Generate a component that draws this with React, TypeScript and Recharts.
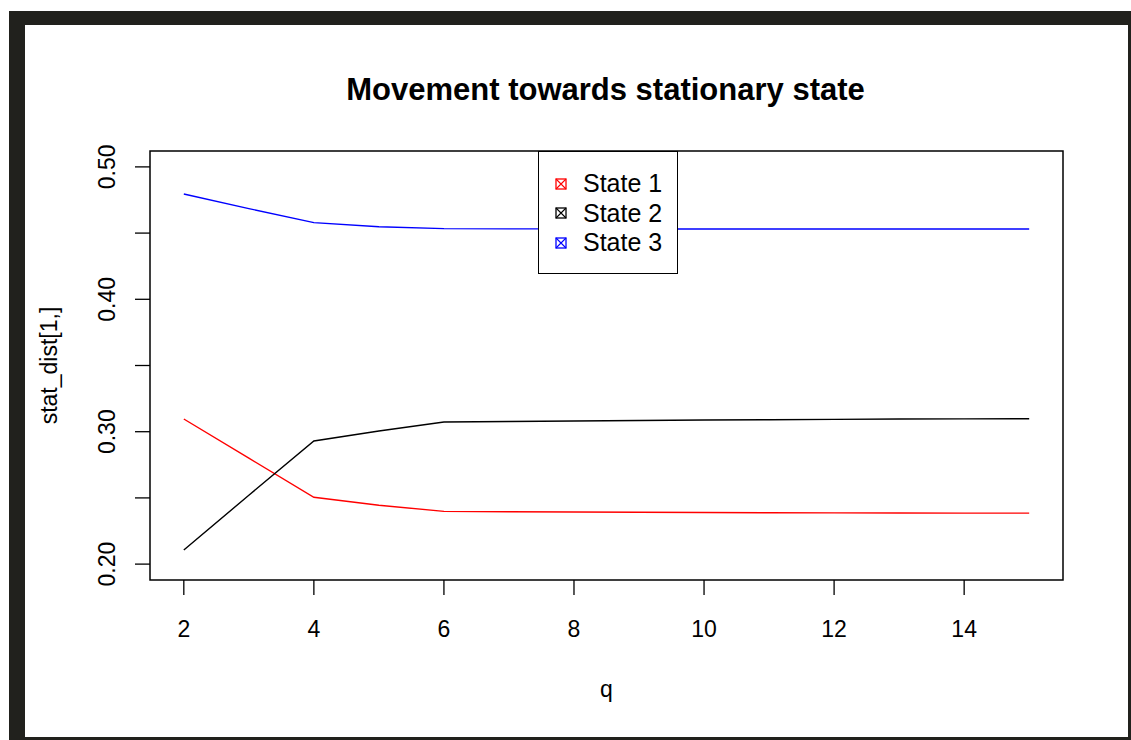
import { LineChart, Line, XAxis, YAxis, ReferenceArea, Legend } from "recharts";

const qValues = [2, 3, 4, 5, 6, 7, 8, 9, 10, 11, 12, 13, 14, 15];
const state1 = [0.3096, 0.28, 0.2505, 0.2445, 0.2398, 0.2396, 0.2394, 0.2392, 0.239, 0.2388, 0.2387, 0.2386, 0.2385, 0.2385];
const state2 = [0.2107, 0.252, 0.293, 0.3005, 0.3073, 0.3077, 0.3081, 0.3085, 0.3088, 0.309, 0.3093, 0.3096, 0.3097, 0.3098];
const state3 = [0.4795, 0.4685, 0.4579, 0.4548, 0.4534, 0.4532, 0.4532, 0.4531, 0.4531, 0.4531, 0.4531, 0.4531, 0.4531, 0.4531];

const xTicks = [2, 4, 6, 8, 10, 12, 14];
const yTicks = [0.2, 0.25, 0.3, 0.35, 0.4, 0.45, 0.5];
const yLabels = ["0.20", "", "0.30", "", "0.40", "", "0.50"];

const SERIES = [
  { key: "s1", name: "State 1", color: "#ff0000" },
  { key: "s2", name: "State 2", color: "#000000" },
  { key: "s3", name: "State 3", color: "#0000ff" },
];

const FONT = "Arial, 'Liberation Sans', sans-serif";

const data = qValues.map((q, i) => ({ q, s1: state1[i], s2: state2[i], s3: state3[i] }));

function XTick({ x, y, payload }: any) {
  return (
    <text x={x} y={y + 40} textAnchor="middle" fontSize={23} fontFamily={FONT} fill="#000">
      {payload.value}
    </text>
  );
}

function YTick({ y, index }: any) {
  const label = yLabels[index];
  if (!label) return null;
  return (
    <text x={115} y={y} transform={`rotate(-90 115 ${y})`} textAnchor="middle" fontSize={23} fontFamily={FONT} fill="#000">
      {label}
    </text>
  );
}

function LegendBox() {
  return (
    <div style={{ width: 140, height: 123, boxSizing: "border-box", border: "1.5px solid #000", background: "#fff", paddingTop: 17, fontFamily: FONT }}>
      {SERIES.map((s) => (
        <div key={s.key} style={{ height: 29.5, display: "flex", alignItems: "center", position: "relative" }}>
          <svg width={12} height={12} style={{ position: "absolute", left: 16 }}>
            <rect x={1} y={1} width={10} height={10} fill="none" stroke={s.color} strokeWidth={1.3} />
            <path d="M1 1 L11 11 M11 1 L1 11" stroke={s.color} strokeWidth={1.1} />
          </svg>
          <span style={{ position: "absolute", left: 44, fontSize: 25, color: "#000", lineHeight: "29.5px" }}>{s.name}</span>
        </div>
      ))}
    </div>
  );
}

export default function App() {
  return (
    <div style={{ position: "absolute", left: 0, top: 0, width: 1131, height: 740, background: "#fff", overflow: "hidden" }}>
      <div
        style={{
          position: "absolute",
          left: 9,
          top: 11,
          right: 0,
          bottom: 0,
          boxSizing: "border-box",
          borderStyle: "solid",
          borderColor: "#21211d",
          borderWidth: "14px 3px 3px 16px",
        }}
      />
      <div style={{ position: "absolute", left: 0, top: 72, width: 1211, textAlign: "center", fontFamily: FONT, fontWeight: "bold", fontSize: 31, color: "#000" }}>
        Movement towards stationary state
      </div>
      <div style={{ position: "absolute", left: 0, top: 0 }}>
        <LineChart width={1131} height={740} data={data} margin={{ top: 151, right: 68, bottom: 120, left: 90 }}>
          <ReferenceArea x1={1.48} x2={15.52} y1={0.188} y2={0.512} fill="none" stroke="#000" strokeWidth={1.5} ifOverflow="visible" />
          <XAxis
            dataKey="q"
            type="number"
            domain={[1.48, 15.52]}
            ticks={xTicks}
            height={40}
            axisLine={false}
            tickSize={15}
            tickLine={{ stroke: "#000", strokeWidth: 1.3 }}
            tick={<XTick />}
            allowDataOverflow
            label={({ viewBox }: any) => (
              <text x={viewBox.x + viewBox.width / 2} y={697} textAnchor="middle" fontSize={23} fontFamily={FONT} fill="#000">
                q
              </text>
            )}
          />
          <YAxis
            type="number"
            domain={[0.188, 0.512]}
            ticks={yTicks}
            width={60}
            axisLine={false}
            tickSize={15}
            tickLine={{ stroke: "#000", strokeWidth: 1.3 }}
            tick={<YTick />}
            allowDataOverflow
            label={({ viewBox }: any) => {
              const cy = viewBox.y + viewBox.height / 2;
              return (
                <text x={57} y={cy} transform={`rotate(-90 57 ${cy})`} textAnchor="middle" fontSize={23} fontFamily={FONT} fill="#000">
                  stat_dist[1,]
                </text>
              );
            }}
          />
          {SERIES.map((s) => (
            <Line key={s.key} dataKey={s.key} name={s.name} stroke={s.color} strokeWidth={1.4} dot={false} type="linear" isAnimationActive={false} />
          ))}
          <Legend
            layout="vertical"
            align="center"
            verticalAlign="middle"
            content={<LegendBox />}
            wrapperStyle={{ position: "absolute", left: 538, top: 151, width: 140, height: 123 }}
          />
        </LineChart>
      </div>
    </div>
  );
}
